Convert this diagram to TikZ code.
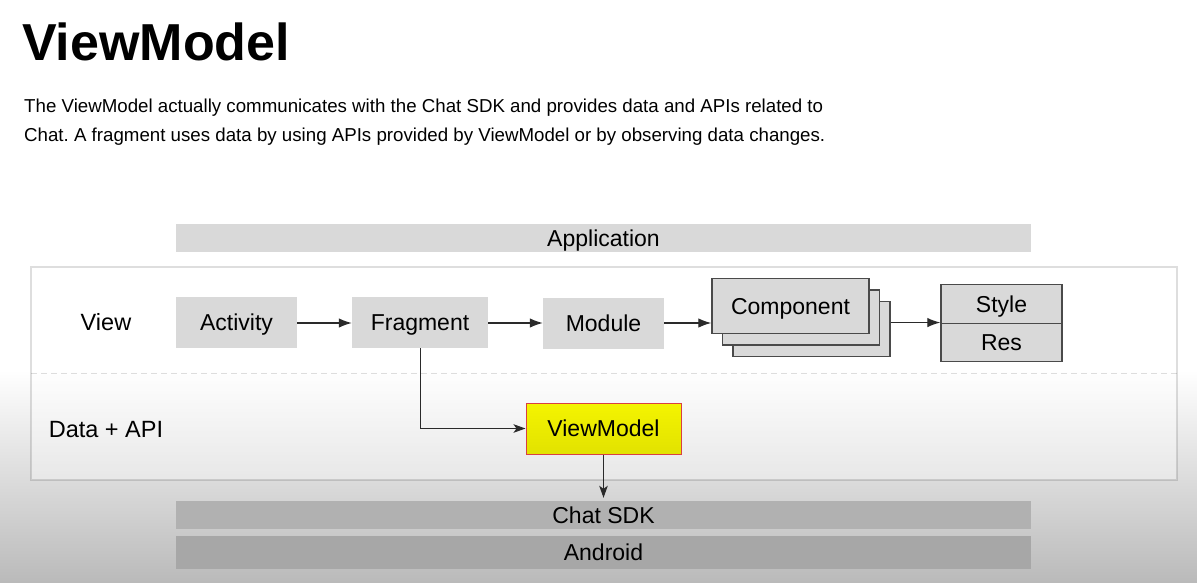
\documentclass[tikz,border=0pt]{standalone}
\usepackage{fontspec}
\setmainfont{Liberation Sans}
\usetikzlibrary{arrows.meta,positioning}
\frenchspacing

\definecolor{boxgray}{HTML}{D9D9D9}
\definecolor{sdkgray}{HTML}{B1B1B1}
\definecolor{androidgray}{HTML}{A7A7A7}
\definecolor{edgegray}{HTML}{4A4A4A}
\definecolor{linkgray}{HTML}{2A2A2A}
\definecolor{vmyellow}{HTML}{F4F400}
\definecolor{vmyellowdark}{HTML}{E2E200}
\definecolor{vmred}{HTML}{D94040}

\begin{document}
\begin{tikzpicture}[x=1pt,y=-1pt,
  block/.style={fill=boxgray, minimum width=121pt, minimum height=51pt, inner sep=0pt,
                text height=16.5pt, text depth=0pt, font=\fontsize{23}{26}\selectfont},
  layer/.style={minimum width=855pt, minimum height=28pt, inner sep=0pt,
                text height=16.5pt, text depth=0pt, font=\fontsize{23}{26}\selectfont},
  stack/.style={block, draw=edgegray, line width=1.4pt, minimum width=157pt, minimum height=55pt},
  cell/.style={block, draw=edgegray, line width=1.4pt, minimum height=38.5pt},
  lbl/.style={text height=16.5pt, text depth=0pt, font=\fontsize{23.5}{26}\selectfont},
  link/.style={draw=linkgray, -{Latex[length=13pt,width=9.5pt]}, line width=1.2pt},
  thinlink/.style={draw=linkgray, -{Stealth[length=12pt,width=8.5pt,inset=3pt]}, line width=1pt}]

\useasboundingbox (0,0) rectangle (1197,582);
% background
\fill[white] (0,0) rectangle (1197,370);
\shade[top color=white, bottom color=black!27] (0,370) rectangle (1197,582);

% heading
\node[anchor=base west, inner sep=0pt, font=\fontsize{52}{60}\selectfont\bfseries] (title) at (22,60) {ViewModel};
\node[anchor=base west, inner sep=0pt, align=left, font=\fontsize{18.7}{29}\selectfont] (intro) at (24,141)
  {The ViewModel actually communicates with the Chat SDK and provides data and APIs related to\\
   Chat. A fragment uses data by using APIs provided by ViewModel or by observing data changes.};

% layers
\node[layer, fill=boxgray] (app) at (603.5,238) {Application};
\draw[draw=black, draw opacity=0.13, fill=white, fill opacity=0.35, line width=1.2pt]
  (31,267) rectangle (1177,480);
\draw[draw=black, draw opacity=0.13, line width=1pt, dash pattern=on 6pt off 4pt] (31,373) -- (1177,373);
\node[layer, fill=sdkgray] (sdk) at (603.5,515) {Chat SDK};
\node[layer, fill=androidgray, minimum height=33pt] (android) at (603.5,552.5) {Android};

\node[lbl] (view) at (106,322) {View};
\node[lbl] (data) at (106,429) {Data + API};

% view row
\node[block] (activity) at (236.5,322.5) {Activity};
\node[block, minimum width=136pt] (fragment) at (420,322.5) {Fragment};
\node[block] (module) at (603.5,323.5) {Module};
\node[stack] (comp3) at (811.5,329) {};
\node[stack] (comp2) at (801,317.5) {};
\node[stack] (comp) at (790.5,306) {Component};
\node[cell] (style) at (1001.5,304) {Style};
\node[cell] (res) at (1001.5,342.5) {Res};

% data row
\node[block, minimum width=155pt, draw=vmred, line width=1pt,
      top color=vmyellow, bottom color=vmyellowdark] (vm) at (603.5,428.5) {ViewModel};

\draw[link] (activity.east |- 0,323) -- (fragment.west |- 0,323);
\draw[link] (fragment.east |- 0,323) -- (module.west |- 0,323);
\draw[link] (module.east |- 0,323) -- (comp.west |- 0,323);
\draw[link] (res.north west -| comp3.east) -- (res.north west);
\draw[thinlink] (fragment.south) |- (vm.west);
\draw[thinlink, shorten >=3pt] (vm.south) -- (sdk.north);
\end{tikzpicture}
\end{document}
